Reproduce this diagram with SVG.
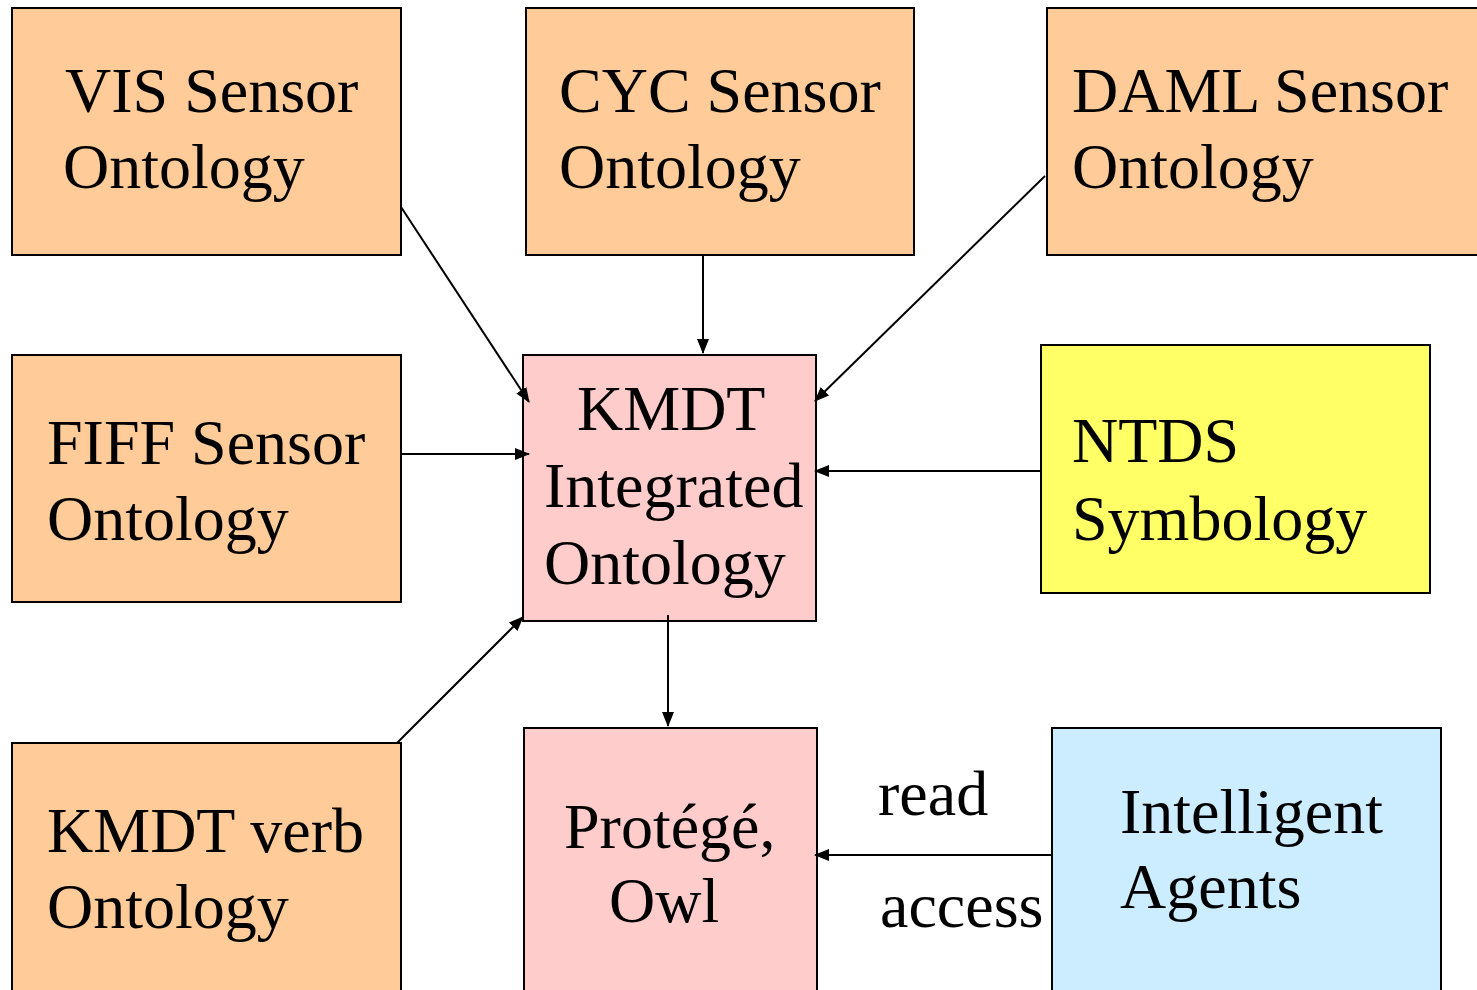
<svg xmlns="http://www.w3.org/2000/svg" width="1477" height="990" viewBox="0 0 1477 990">
<style>
.b{stroke:#000;stroke-width:2}
.o{fill:#FFCC99}
.p{fill:#FFCCCC}
.y{fill:#FFFF66}
.c{fill:#CCECFF}
text{font-family:"Liberation Serif","Times New Roman",serif;font-size:64px;fill:#000}
.e{stroke:#000;stroke-width:2;fill:none;marker-end:url(#a)}
</style>
<defs>
<marker id="a" viewBox="0 0 15 12" refX="14" refY="6" markerWidth="15" markerHeight="12" orient="auto" markerUnits="userSpaceOnUse">
<path d="M0,0 L15,6 L0,12 z" fill="#000"/>
</marker>
</defs>
<rect width="1477" height="990" fill="#fff"/>
<g id="vis"><rect class="b o" x="12" y="8" width="389" height="247"/><text x="65" y="112">VIS Sensor</text><text x="63" y="188">Ontology</text></g>
<g id="cyc"><rect class="b o" x="526" y="8" width="388" height="247"/><text x="559" y="112">CYC Sensor</text><text x="559" y="188">Ontology</text></g>
<g id="daml"><rect class="b o" x="1047" y="8" width="440" height="247"/><text x="1072" y="112">DAML Sensor</text><text x="1072" y="188">Ontology</text></g>
<g id="fiff"><rect class="b o" x="12" y="355" width="389" height="247"/><text x="47" y="464">FIFF Sensor</text><text x="47" y="540">Ontology</text></g>
<g id="kmdt"><rect class="b p" x="523" y="355" width="293" height="266"/><text x="577" y="430">KMDT</text><text x="544" y="507">Integrated</text><text x="544" y="584">Ontology</text></g>
<g id="ntds"><rect class="b y" x="1041" y="345" width="389" height="248"/><text x="1072" y="462">NTDS</text><text x="1072" y="540">Symbology</text></g>
<g id="verb"><rect class="b o" x="12" y="743" width="389" height="260"/><text x="47" y="852">KMDT verb</text><text x="47" y="928">Ontology</text></g>
<g id="protege"><rect class="b p" x="524" y="728" width="293" height="275"/><text x="564" y="848">Protégé,</text><text x="609" y="922">Owl</text></g>
<g id="agents"><rect class="b c" x="1052" y="728" width="389" height="275"/><text x="1120" y="833">Intelligent</text><text x="1120" y="908">Agents</text></g>
<g id="labels"><text x="878" y="815">read</text><text x="880" y="927">access</text></g>
<g id="connectors">
<path class="e" d="M401,207 L529,402"/>
<path class="e" d="M703,255 L703,353"/>
<path class="e" d="M1045,176 L815,401"/>
<path class="e" d="M401,454 L529,454"/>
<path class="e" d="M1041,471 L815,471"/>
<path class="e" d="M397,743 L523,617"/>
<path class="e" d="M668,615 L668,726"/>
<path class="e" d="M1052,855 L815,855"/>
</g>
</svg>
